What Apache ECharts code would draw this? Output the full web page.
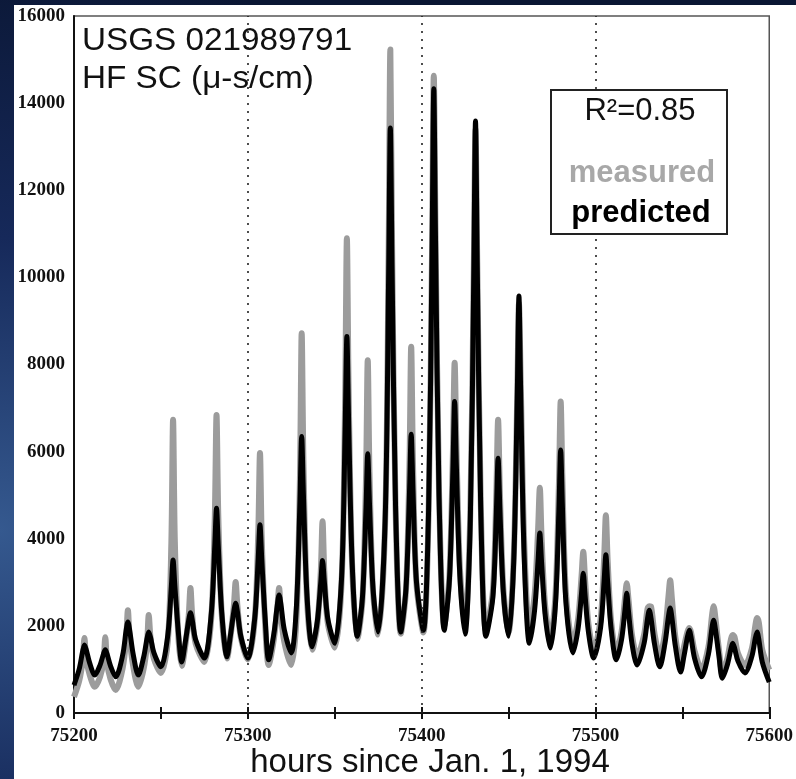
<!DOCTYPE html>
<html>
<head>
<meta charset="utf-8">
<script src="https://cdn.jsdelivr.net/npm/echarts@6/dist/echarts.min.js"></script>
<style>
  html, body { margin: 0; padding: 0; background: #0c1a3c; }
  #chart { width: 796px; height: 779px; }
</style>
</head>
<body>
<div id="chart"></div>
<script>
// Hourly specific conductance, hours counted from Jan. 1, 1994
const hours = [
  75200,
  75203,75205,75206,75207,75209,75212,
  75215,75217,75218,75219,75221,75224,
  75228,75230,75231,75232,75234,75237,
  75240,75242,75243,75244,75246,75250,
  75254,75256,75257,75258,75260,75262,
  75264,75266,75267,75268,75270,75275,
  75279,75281,75282,75283,75285,75288,
  75290,75292,75293,75294,75296,75300,
  75304,75306,75307,75308,75310,75312,
  75315,75317,75318,75319,75321,75325,
  75328,75330,75331,75332,75334,75337,
  75340,75342,75343,75344,75346,75350,
  75354,75356,75357,75358,75360,75363,
  75366,75368,75369,75370,75372,75375,
  75379,75381,75382,75383,75385,75388,
  75391,75393,75394,75395,75397,75401,
  75404,75406,75407,75408,75410,75413,
  75416,75418,75419,75420,75422,75425,
  75428,75430,75431,75432,75434,75437,
  75441,75443,75444,75445,75447,75450,
  75453,75455,75456,75457,75459,75462,
  75465,75467,75468,75469,75471,75474,
  75477,75479,75480,75481,75483,75487,
  75490,75492,75493,75494,75496,75499,
  75503,75505,75506,75507,75509,75512,
  75515,75517,75518,75519,75521,75524,
  75528,75530,75531,75532,75534,75537,
  75540,75542,75543,75544,75546,75549,
  75551,75553,75554,75555,75557,75561,
  75565,75567,75568,75569,75571,75573,
  75576,75578,75579,75580,75582,75586,
  75590,75592,75593,75594,75596,75600
];

// Measured SC (µ-s/cm)
const measured = [
  370,
  740,1210,1720,1250,880,600,
  830,1190,1740,1160,780,530,
  1030,1700,2360,1740,1090,600,
  1000,1580,2250,1740,1240,920,
  1660,3890,6730,3970,1780,1080,
  1530,2240,2870,2250,1590,1170,
  2200,4500,6840,4560,2270,1250,
  1740,2470,3010,2470,1730,1230,
  2150,4110,5970,4010,2030,1100,
  1700,2430,2870,2290,1630,1100,
  2190,5410,8720,5760,2660,1450,
  2040,3260,4400,3250,2070,1500,
  3050,7220,10900,7440,3420,1700,
  2620,5380,8100,5500,2820,1800,
  4350,10530,15230,10780,4710,1820,
  2820,5700,8410,5790,2980,1850,
  4590,10660,14630,11060,5110,2000,
  3160,5990,8040,6160,3340,2000,
  4590,10180,13400,10350,4860,1900,
  2800,5070,6730,5110,2870,1850,
  3570,7260,9400,7630,3940,1950,
  2710,4210,5170,4040,2490,1700,
  2700,5280,7150,5350,2770,1600,
  2150,3140,3700,3080,2040,1450,
  2160,3550,4540,3530,2120,1400,
  1860,2630,2980,2620,1800,1300,
  1800,2400,2450,2440,1820,1300,
  1840,2670,3050,2620,1740,1150,
  1530,1870,1950,1850,1430,1000,
  1520,2220,2450,2190,1480,950,
  1270,1700,1790,1750,1370,1100,
  1480,2010,2180,2080,1450,990
];

// Predicted SC (µ-s/cm)
const predicted = [
  640,
  1010,1420,1560,1460,1150,870,
  1100,1360,1450,1360,1080,830,
  1330,1900,2090,1910,1360,870,
  1270,1710,1860,1740,1380,1060,
  1800,2900,3510,2930,1870,1170,
  1620,2130,2300,2140,1680,1260,
  2290,3840,4700,3850,2310,1290,
  1780,2340,2520,2330,1760,1260,
  2180,3560,4320,3550,2150,1220,
  1820,2490,2710,2510,1910,1380,
  2470,4860,6350,5000,2730,1520,
  2110,3010,3500,3030,2170,1600,
  3150,6530,8640,6710,3480,1760,
  2680,4690,5950,4810,2880,1860,
  4410,9960,13430,10190,4750,1860,
  2860,5040,6400,5140,3030,1900,
  4640,10600,14330,10850,5010,1900,
  3060,5580,7150,5660,3150,1810,
  4400,10060,13590,10280,4720,1760,
  2660,4620,5850,4710,2780,1760,
  3480,7230,9570,7340,3590,1600,
  2360,3500,4130,3470,2280,1490,
  2490,4680,6040,4740,2550,1380,
  1930,2750,3210,2720,1850,1260,
  1970,3040,3630,3030,1940,1220,
  1680,2370,2750,2340,1600,1100,
  1600,2170,2360,2170,1580,1060,
  1600,2210,2410,2190,1530,940,
  1320,1760,1900,1740,1260,830,
  1350,1940,2130,1930,1330,800,
  1120,1480,1600,1500,1190,920,
  1300,1720,1860,1690,1170,710
];

const xRange = [75200, 75600];
const yRange = [0, 16000];
const gridHours = [75300, 75400, 75500];
const titleLines = ['USGS 021989791', 'HF SC (\u03bc-s/cm)'];
const fitLabel = 'R\u00b2=0.85';
const axisTitle = 'hours since Jan. 1, 1994';

const chart = echarts.init(document.getElementById('chart'), null, { renderer: 'canvas' });

const ink = '#111';
const sans = '"Liberation Sans", Arial, sans-serif';
const tickFont = { color: ink, fontFamily: '"Liberation Serif", serif', fontWeight: 'bold', fontSize: 19 };
const plain = v => String(v);

chart.setOption({
  animation: false,
  backgroundColor: new echarts.graphic.RadialGradient(0.0, 0.68, 0.75, [
    { offset: 0, color: '#35598f' },
    { offset: 0.5, color: '#16295a' },
    { offset: 1, color: '#0a1633' }
  ]),
  grid: {
    left: 74, top: 16, width: 699, height: 697,
    show: true, borderColor: '#555', borderWidth: 1.5, backgroundColor: 'transparent'
  },
  xAxis: [
    {
      type: 'value', min: xRange[0], max: xRange[1], interval: 100, position: 'bottom',
      axisLine: { show: true, onZero: false, lineStyle: { color: ink, width: 2 } },
      axisTick: { show: true, inside: false, length: 6, lineStyle: { color: ink, width: 2 } },
      minorTick: { show: true, splitNumber: 2, length: 6, lineStyle: { color: ink, width: 2 } },
      axisLabel: Object.assign({ margin: 14, formatter: plain }, tickFont),
      splitLine: { show: false }
    },
    {
      type: 'value', min: xRange[0], max: xRange[1], interval: 50, position: 'bottom',
      axisLine: { show: false, onZero: false },
      axisTick: { show: true, inside: true, length: 6, lineStyle: { color: ink, width: 2 } },
      axisLabel: { show: false },
      splitLine: { show: false }
    }
  ],
  yAxis: {
    type: 'value', min: yRange[0], max: yRange[1], interval: 2000,
    axisLine: { show: true, onZero: false, lineStyle: { color: ink, width: 2 } },
    axisTick: { show: false },
    axisLabel: Object.assign({ margin: 9, formatter: plain }, tickFont),
    splitLine: { show: false }
  },
  series: [
    {
      name: 'measured', type: 'line', xAxisIndex: 0,
      data: hours.map((h, i) => [h, measured[i]]),
      showSymbol: false, symbol: 'none', z: 2,
      smooth: 0.3,
      lineStyle: { color: '#9c9c9c', width: 6, join: 'round' },
      markLine: {
        silent: true, symbol: 'none', animation: false,
        label: { show: false },
        lineStyle: { color: '#222', type: [2, 6], width: 1.6 },
        data: gridHours.map(h => ({ xAxis: h }))
      }
    },
    {
      name: 'predicted', type: 'line', xAxisIndex: 0,
      data: hours.map((h, i) => [h, predicted[i]]),
      showSymbol: false, symbol: 'none', z: 3,
      smooth: 0.3,
      lineStyle: { color: '#000', width: 5, join: 'round' }
    }
  ],
  graphic: [
    // white slide panel behind the chart
    { type: 'rect', z: -100, shape: { x: 14, y: 5, width: 782, height: 774 }, style: { fill: '#fff' } },
    { type: 'text', z: 50, x: 82, y: 41, scaleX: 1.04, style: { x: 0, y: 0, text: titleLines[0], fontFamily: sans, fontSize: 32, fill: ink, verticalAlign: 'middle' } },
    { type: 'text', z: 50, x: 82, y: 79, scaleX: 1.04, style: { x: 0, y: 0, text: titleLines[1], fontFamily: sans, fontSize: 32, fill: ink, verticalAlign: 'middle' } },
    { type: 'text', z: 50, style: { x: 430, y: 763, text: axisTitle, fontFamily: sans, fontSize: 33, fill: ink, align: 'center', verticalAlign: 'middle' } },
    // legend box
    { type: 'rect', z: 60, shape: { x: 551, y: 90, width: 176, height: 144 }, style: { fill: '#fff', stroke: '#222', lineWidth: 2 } },
    { type: 'text', z: 61, style: { x: 640, y: 111, text: fitLabel, fontFamily: sans, fontSize: 31, fill: ink, align: 'center', verticalAlign: 'middle' } },
    { type: 'text', z: 61, style: { x: 642, y: 173, text: 'measured', fontFamily: sans, fontWeight: 'bold', fontSize: 31, fill: '#a8a8a8', align: 'center', verticalAlign: 'middle' } },
    { type: 'text', z: 61, style: { x: 641, y: 213, text: 'predicted', fontFamily: sans, fontWeight: 'bold', fontSize: 31, fill: '#000', align: 'center', verticalAlign: 'middle' } }
  ]
});
</script>
</body>
</html>
